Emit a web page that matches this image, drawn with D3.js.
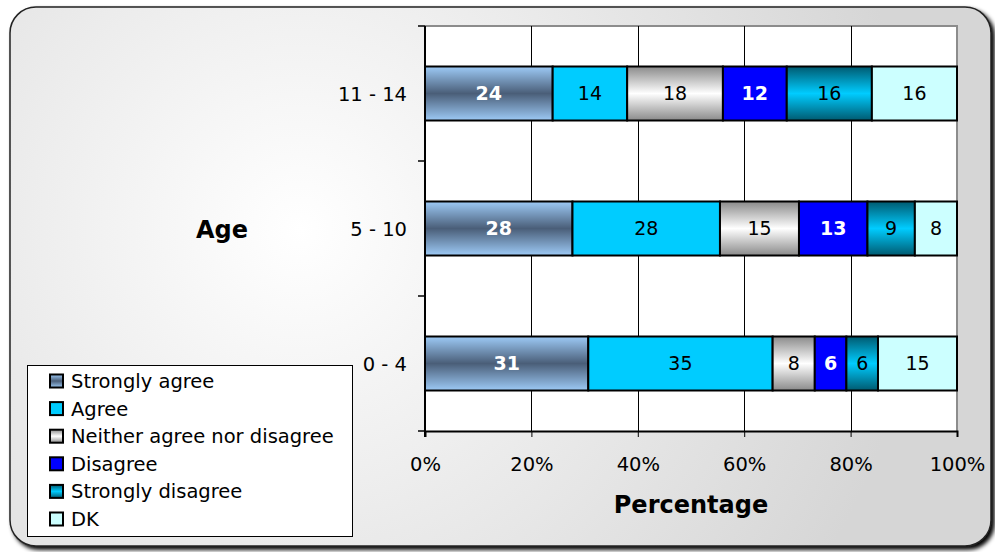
<!DOCTYPE html>
<html>
<head>
<meta charset="utf-8">
<script src="https://cdn.jsdelivr.net/npm/d3@7"></script>
<style>
  html, body { margin: 0; padding: 0; background: #ffffff; }
  svg { display: block; }
  text { font-family: "DejaVu Sans", Verdana, sans-serif; }
</style>
</head>
<body>
<svg id="chart" width="995" height="552"></svg>
<script>
// Age groups, top to bottom
const categories = ["11 - 14", "5 - 10", "0 - 4"];
// Response options in stacking order
const seriesNames = ["Strongly agree", "Agree", "Neither agree nor disagree", "Disagree", "Strongly disagree", "DK"];
// Percentages per age group, in the same order as seriesNames
const stronglyAgree    = [24, 28, 31];
const agree            = [14, 28, 35];
const neither          = [18, 15, 8];
const disagree         = [12, 13, 6];
const stronglyDisagree = [16, 9, 6];
const dk               = [16, 8, 15];
const xTicks = [0, 0.2, 0.4, 0.6, 0.8, 1.0];

const seriesValues = [stronglyAgree, agree, neither, disagree, stronglyDisagree, dk];

const svg = d3.select("#chart");
const defs = svg.append("defs");

// Background: soft radial light behind the chart
const bg = defs.append("radialGradient").attr("id", "bgGrad")
  .attr("gradientUnits", "userSpaceOnUse")
  .attr("cx", 300).attr("cy", 230).attr("r", 620);
bg.append("stop").attr("offset", "0%").attr("stop-color", "#ffffff");
bg.append("stop").attr("offset", "100%").attr("stop-color", "#d6d6d6");

// Vertical gradients for the shaded series
function vGrad(id, edge, mid) {
  const g = defs.append("linearGradient").attr("id", id)
    .attr("x1", 0).attr("y1", 0).attr("x2", 0).attr("y2", 1);
  g.append("stop").attr("offset", "0%").attr("stop-color", edge);
  g.append("stop").attr("offset", "50%").attr("stop-color", mid);
  g.append("stop").attr("offset", "100%").attr("stop-color", edge);
}
vGrad("gSA", "#9dcaf6", "#4a5e78");
vGrad("gN", "#8a8a8a", "#ffffff");
vGrad("gSD", "#005a70", "#00ccff");

const fills = ["url(#gSA)", "#00ccff", "url(#gN)", "#0000ff", "url(#gSD)", "#ccffff"];
const labelWhite = [true, false, false, true, false, false];

// Drop shadow for the outer frame
const sh = defs.append("filter").attr("id", "shadow")
  .attr("x", "-5%").attr("y", "-5%").attr("width", "110%").attr("height", "110%");
sh.append("feGaussianBlur").attr("in", "SourceAlpha").attr("stdDeviation", 2);
sh.append("feOffset").attr("dx", 3).attr("dy", 3).attr("result", "ob");
const m = sh.append("feMerge");
m.append("feMergeNode").attr("in", "ob");
m.append("feMergeNode").attr("in", "SourceGraphic");

// Outer rounded frame
svg.append("rect")
  .attr("x", 10).attr("y", 7).attr("width", 981).attr("height", 539)
  .attr("rx", 26).attr("ry", 26)
  .attr("fill", "url(#bgGrad)")
  .attr("stroke", "#222").attr("stroke-width", 1.5)
  .attr("filter", "url(#shadow)");

// Plot area
const plot = { left: 425, top: 26, right: 957, bottom: 431 };
const x = d3.scaleLinear().domain([0, 1]).range([plot.left, plot.right]);
const y = d3.scaleBand().domain(categories).range([plot.top, plot.bottom]).paddingInner(0.6).paddingOuter(0.3);
const yOuter = d3.scaleBand().domain(categories).range([plot.top, plot.bottom]);

svg.append("rect")
  .attr("x", plot.left).attr("y", plot.top)
  .attr("width", plot.right - plot.left).attr("height", plot.bottom - plot.top)
  .attr("fill", "#ffffff");

// Top and right borders of the plot area
svg.append("path")
  .attr("d", `M${plot.left},${plot.top}H${plot.right}V${plot.bottom}`)
  .attr("fill", "none").attr("stroke", "#8c8c8c").attr("stroke-width", 2);

// Vertical gridlines
svg.append("g").selectAll("line")
  .data(xTicks.filter(t => t > 0 && t < 1))
  .join("line")
  .attr("x1", d => Math.round(x(d)) + 0.5).attr("x2", d => Math.round(x(d)) + 0.5)
  .attr("y1", plot.top).attr("y2", plot.bottom)
  .attr("stroke", "#000").attr("stroke-width", 1);

// Stacked, normalised data
const rows = categories.map((c, i) => {
  const vals = seriesValues.map(s => s[i]);
  const total = d3.sum(vals);
  let acc = 0;
  return vals.map((v, k) => {
    const seg = { cat: c, k, v, x0: acc / total, x1: (acc + v) / total };
    acc += v;
    return seg;
  });
});

const segs = rows.flat();
const barG = svg.append("g");
barG.selectAll("rect")
  .data(segs)
  .join("rect")
  .attr("x", d => x(d.x0))
  .attr("y", d => y(d.cat))
  .attr("width", d => x(d.x1) - x(d.x0))
  .attr("height", y.bandwidth())
  .attr("fill", d => fills[d.k])
  .attr("stroke", "#000").attr("stroke-width", 2);

barG.selectAll("text")
  .data(segs)
  .join("text")
  .attr("x", d => (x(d.x0) + x(d.x1)) / 2)
  .attr("y", d => y(d.cat) + y.bandwidth() / 2)
  .attr("dy", "0.36em")
  .attr("text-anchor", "middle")
  .attr("font-size", 19)
  .attr("font-weight", d => labelWhite[d.k] ? "bold" : "normal")
  .attr("fill", d => labelWhite[d.k] ? "#ffffff" : "#000000")
  .text(d => d.v);

// X axis
const xAxis = d3.axisBottom(x).tickValues(xTicks).tickFormat(d3.format(".0%")).tickSizeOuter(0).tickSize(6).tickPadding(20);
const xg = svg.append("g").attr("transform", `translate(0,${plot.bottom})`).call(xAxis);
xg.select(".domain").attr("stroke", "#000").attr("stroke-width", 2);
xg.selectAll(".tick line").attr("stroke", "#000");
xg.selectAll(".tick text").attr("font-size", 19.5).attr("fill", "#000")
  .attr("font-family", "DejaVu Sans, sans-serif");

// Y axis: ticks at band boundaries, labels at band centres
const yg = svg.append("g");
yg.append("line")
  .attr("x1", plot.left).attr("x2", plot.left)
  .attr("y1", plot.top).attr("y2", plot.bottom + 6)
  .attr("stroke", "#000").attr("stroke-width", 2);
const boundaries = categories.map(c => yOuter(c)).concat([plot.bottom]);
yg.selectAll("line.tk")
  .data(boundaries)
  .join("line").attr("class", "tk")
  .attr("x1", plot.left - 7).attr("x2", plot.left)
  .attr("y1", d => d).attr("y2", d => d)
  .attr("stroke", "#000").attr("stroke-width", 1.5);
yg.selectAll("text")
  .data(categories)
  .join("text")
  .attr("x", 407)
  .attr("y", d => y(d) + y.bandwidth() / 2)
  .attr("dy", "0.36em")
  .attr("text-anchor", "end")
  .attr("font-size", 19.5)
  .text(d => d);

// Axis titles
svg.append("text")
  .attr("x", 222).attr("y", 229).attr("dy", "0.36em")
  .attr("text-anchor", "middle").attr("font-size", 24).attr("font-weight", "bold")
  .text("Age");
svg.append("text")
  .attr("x", 691).attr("y", 504).attr("dy", "0.36em")
  .attr("text-anchor", "middle").attr("font-size", 24).attr("font-weight", "bold")
  .text("Percentage");

// Legend
const lg = svg.append("g");
lg.append("rect")
  .attr("x", 27.5).attr("y", 365.5).attr("width", 325).attr("height", 171)
  .attr("fill", "#ffffff").attr("stroke", "#000").attr("stroke-width", 1);
const item = lg.selectAll("g.item")
  .data(seriesNames)
  .join("g").attr("class", "item")
  .attr("transform", (d, i) => `translate(0,${381 + i * 27.6})`);
item.append("rect")
  .attr("x", 50).attr("y", -6.5).attr("width", 13).attr("height", 13)
  .attr("fill", (d, i) => fills[i])
  .attr("stroke", "#000").attr("stroke-width", 2);
item.append("text")
  .attr("x", 71).attr("y", 0).attr("dy", "0.36em")
  .attr("font-size", 19.5)
  .text(d => d);
</script>
</body>
</html>
